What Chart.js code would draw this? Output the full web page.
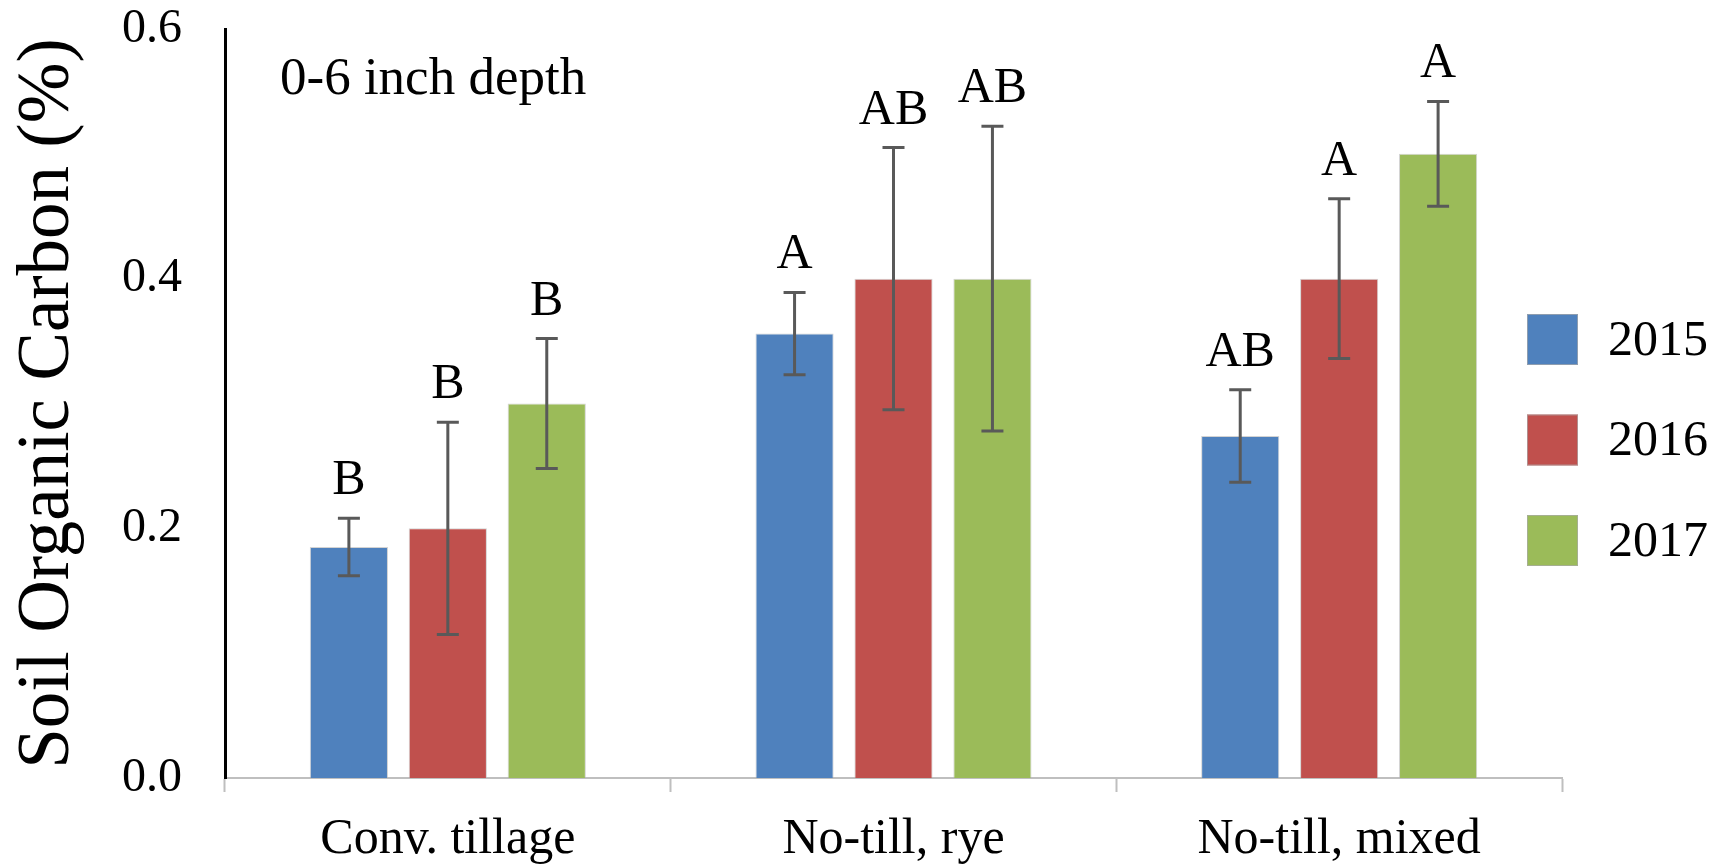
<!DOCTYPE html>
<html>
<head>
<meta charset="utf-8">
<title>Soil Organic Carbon</title>
<script src="https://cdn.jsdelivr.net/npm/chart.js@4"></script>
<style>
  html, body { margin: 0; padding: 0; background: #ffffff; }
  #wrap { width: 1725px; height: 866px; position: relative; }
  canvas { display: block; }
</style>
</head>
<body>
<div id="wrap"><canvas id="c" width="1725" height="866"></canvas></div>
<script>
// Treatments along the x axis
const categories = ['Conv. tillage', 'No-till, rye', 'No-till, mixed'];
// Sampling years (one series each)
const years = ['2015', '2016', '2017'];
// Mean soil organic carbon (%)
const soc2015 = [0.185, 0.356, 0.274];
const soc2016 = [0.200, 0.400, 0.400];
const soc2017 = [0.300, 0.400, 0.500];
// Error bar half-lengths (%)
const err2015 = [0.023, 0.033, 0.037];
const err2016 = [0.085, 0.105, 0.064];
const err2017 = [0.052, 0.122, 0.042];
// Mean separation letters
const letters2015 = ['B', 'A', 'AB'];
const letters2016 = ['B', 'AB', 'A'];
const letters2017 = ['B', 'AB', 'A'];
// Y axis tick values
const yTicks = [0.0, 0.2, 0.4, 0.6];

const colors = ['#4F81BD', '#C0504D', '#9BBB59'];
const SERIF = "'Liberation Serif', 'Times New Roman', serif";

const seriesValues = [soc2015, soc2016, soc2017];
const seriesErrors = [err2015, err2016, err2017];
const seriesLetters = [letters2015, letters2016, letters2017];

// Error bars, letters, depth note and legend drawn on top of the bars
const overlayPlugin = {
  id: 'overlay',
  afterDatasetsDraw(chart, args, opts) {
    const ctx = chart.ctx;
    const yScale = chart.scales.y;
    const area = chart.chartArea;
    ctx.save();
    chart.data.datasets.forEach((ds, di) => {
      const meta = chart.getDatasetMeta(di);
      meta.data.forEach((bar, i) => {
        const v = ds.data[i];
        const e = ds.errors[i];
        const yTop = yScale.getPixelForValue(v + e);
        const yBot = yScale.getPixelForValue(v - e);
        const x = bar.x;
        ctx.strokeStyle = '#595959';
        ctx.lineWidth = 3;
        ctx.beginPath();
        ctx.moveTo(x, yTop); ctx.lineTo(x, yBot);
        ctx.moveTo(x - 11, yTop); ctx.lineTo(x + 11, yTop);
        ctx.moveTo(x - 11, yBot); ctx.lineTo(x + 11, yBot);
        ctx.stroke();
        ctx.fillStyle = '#000000';
        ctx.font = '50px ' + SERIF;
        ctx.textAlign = 'center';
        ctx.textBaseline = 'alphabetic';
        ctx.fillText(ds.letters[i], x, yTop - 24);
      });
    });

    // depth note
    ctx.fillStyle = '#000000';
    ctx.font = '53px ' + SERIF;
    ctx.textAlign = 'left';
    ctx.textBaseline = 'alphabetic';
    ctx.fillText('0-6 inch depth', area.left + 55, area.top + 65);

    // legend
    const lg = opts.legend;
    chart.data.datasets.forEach((ds, di) => {
      const top = lg.top + di * lg.step;
      ctx.fillStyle = ds.backgroundColor;
      ctx.fillRect(lg.left, top, lg.box, lg.box);
      ctx.strokeStyle = 'rgba(170,170,170,0.7)';
      ctx.lineWidth = 1;
      ctx.strokeRect(lg.left + 0.5, top + 0.5, lg.box - 1, lg.box - 1);
      ctx.fillStyle = '#000000';
      ctx.font = '50px ' + SERIF;
      ctx.textAlign = 'left';
      ctx.textBaseline = 'middle';
      ctx.fillText(ds.label, lg.left + lg.box + 30, top + lg.box / 2 + 2);
    });
    ctx.restore();
  }
};

const datasets = years.map((yr, i) => ({
  label: yr,
  data: seriesValues[i],
  errors: seriesErrors[i],
  letters: seriesLetters[i],
  backgroundColor: colors[i],
  borderColor: 'rgba(175,175,175,0.55)',
  borderWidth: 1,
  categoryPercentage: 0.666,
  barPercentage: 0.79
}));

new Chart(document.getElementById('c'), {
  type: 'bar',
  data: { labels: categories, datasets: datasets },
  plugins: [overlayPlugin],
  options: {
    responsive: false,
    animation: false,
    devicePixelRatio: 1,
    layout: { padding: { left: 0, top: 29, right: 163, bottom: 0 } },
    plugins: {
      legend: { display: false },
      tooltip: { enabled: false },
      overlay: { legend: { left: 1527, top: 314, step: 100.5, box: 51 } }
    },
    scales: {
      x: {
        offset: true,
        grid: {
          display: true,
          drawOnChartArea: false,
          drawTicks: true,
          tickLength: 14,
          tickWidth: 2,
          tickColor: '#BFBFBF',
          offset: true
        },
        border: { display: true, color: '#BFBFBF', width: 2 },
        ticks: {
          color: '#000000',
          font: { family: SERIF, size: 50 },
          padding: 18,
          maxRotation: 0,
          autoSkip: false
        },
        afterFit: (scale) => {
          scale.height = 88;
          scale.paddingLeft = 0;
          scale.paddingRight = 0;
        }
      },
      y: {
        min: 0,
        max: 0.6,
        afterBuildTicks: (scale) => { scale.ticks = yTicks.map(v => ({ value: v })); },
        grid: { display: false, drawTicks: false },
        border: { display: true, color: '#000000', width: 3 },
        ticks: {
          color: '#000000',
          font: { family: SERIF, size: 48 },
          padding: 43,
          callback: (v) => Number(v).toFixed(1)
        },
        title: {
          display: true,
          text: 'Soil Organic Carbon (%)',
          color: '#000000',
          font: { family: SERIF, size: 73 },
          padding: { top: 5, bottom: 0 }
        },
        afterFit: (scale) => {
          scale.width = 225;
          scale.paddingTop = 0;
          scale.paddingBottom = 0;
        }
      }
    }
  }
});
</script>
</body>
</html>
